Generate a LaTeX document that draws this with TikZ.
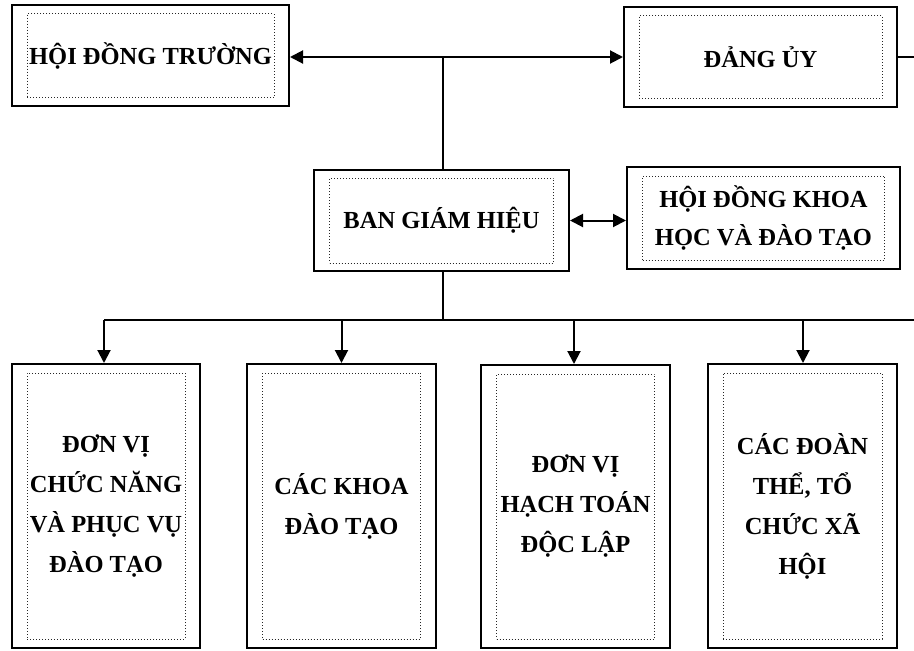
\documentclass[tikz,border=0pt]{standalone}
\usepackage{fontspec}
\setmainfont{Liberation Serif}
\usetikzlibrary{arrows.meta,calc}
\tikzset{
  outerbox/.style={draw=black, line width=2pt, fill=white, inner sep=0pt},
  innerbox/.style={draw=black!85, dotted, line width=1pt, inner sep=0pt, align=center,
    font=\fontsize{24.5}{40}\selectfont\bfseries},
  conn/.style={line width=2pt, draw=black},
  tip/.style={-{Triangle[length=13pt,width=13pt]}},
  tips/.style={{Triangle[length=13pt,width=13pt]}-{Triangle[length=13pt,width=13pt]}}
}
\begin{document}
\begin{tikzpicture}[x=1pt,y=-1pt]
\useasboundingbox[fill=white] (0,0) rectangle (914,651);
% top row
\node[outerbox, minimum width=277pt, minimum height=101pt] (hdt) at (150.5,55.5) {};
\node[innerbox, minimum width=247pt, minimum height=84pt] (hdti) at (hdt) {HỘI ĐỒNG TRƯỜNG};
\node[outerbox, minimum width=273pt, minimum height=100pt] (du) at (760.5,57) {};
\node[innerbox, minimum width=243pt, minimum height=83pt] (dui) at (du) {ĐẢNG ỦY};
% middle row
\node[outerbox, minimum width=255pt, minimum height=101pt] (bgh) at (441.5,220.5) {};
\node[innerbox, minimum width=224pt, minimum height=85pt] (bghi) at (bgh) {BAN GIÁM HIỆU};
\node[outerbox, minimum width=273pt, minimum height=102pt] (hdkh) at (763.5,218) {};
\node[innerbox, minimum width=242pt, minimum height=84pt] (hdkhi) at (hdkh) {HỘI ĐỒNG KHOA\\[-2pt]HỌC VÀ ĐÀO TẠO};
% bottom row
\node[outerbox, minimum width=188pt, minimum height=284pt] (a) at (106,506) {};
\node[innerbox, minimum width=158pt, minimum height=266pt] (ai) at (a) {ĐƠN VỊ\\CHỨC NĂNG\\VÀ PHỤC VỤ\\ĐÀO TẠO};
\node[outerbox, minimum width=189pt, minimum height=284pt] (b) at (341.5,506) {};
\node[innerbox, minimum width=158pt, minimum height=266pt] (bi) at (b) {CÁC KHOA\\ĐÀO TẠO};
\node[outerbox, minimum width=189pt, minimum height=283pt] (c) at (575.5,506.5) {};
\node[innerbox, minimum width=158pt, minimum height=265pt] (ci) at (c) {ĐƠN VỊ\\HẠCH TOÁN\\ĐỘC LẬP};
\node[outerbox, minimum width=189pt, minimum height=284pt] (d) at (802.5,506) {};
\node[innerbox, minimum width=159pt, minimum height=266pt] (di) at (d) {CÁC ĐOÀN\\THỂ, TỔ\\CHỨC XÃ\\HỘI};
% junctions
\coordinate (j1) at (443,57);
\coordinate (e1) at (914,57);
\coordinate (bus) at (443,320);
\coordinate (busl) at (104,320);
\coordinate (busr) at (914,320);
% connectors
\draw[conn, tips] (du.west -| hdt.east) -- (du.west);
\draw[conn] (du.east) -- (e1);
\draw[conn] (j1) -- (j1 |- bgh.north);
\draw[conn, tips] (bgh.east) -- (bgh.east -| hdkh.west);
\draw[conn] (bus |- bgh.south) -- (bus);
\draw[conn] (busl) -- (busr);
\draw[conn, tip] (busl) -- (busl |- a.north);
\draw[conn, tip] (b.north |- bus) -- (b.north);
\draw[conn, tip] (574,320) -- (574,0 |- c.north);
\draw[conn, tip] (803,320) -- (803,0 |- d.north);
\end{tikzpicture}
\end{document}
